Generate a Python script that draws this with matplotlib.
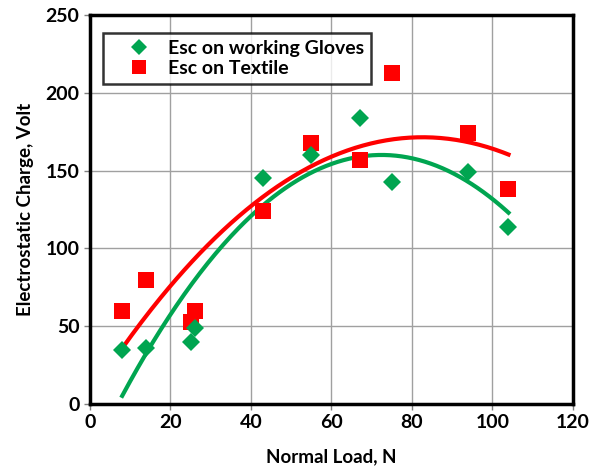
import matplotlib.pyplot as plt
import numpy as np

load = [8, 14, 25, 26, 43, 55, 67, 75, 94, 104]
gloves = [35, 36, 40, 49, 145, 160, 184, 143, 149, 114]
textile = [60, 80, 53, 60, 124, 168, 157, 213, 174, 138]

plt.rcParams['font.family'] = ['Lato', 'DejaVu Sans']
plt.rcParams['font.weight'] = 'bold'

fig = plt.figure(figsize=(5.98, 4.72), dpi=100)
ax = fig.add_axes([0.1505, 0.144, 0.8075, 0.824])

green = '#00a550'
red = '#ff0000'

# quadratic trendlines (like excel)
xs = np.linspace(min(load), max(load), 200)
pg = np.polyfit(load, gloves, 2)
pr = np.polyfit(load, textile, 2)
ax.plot(xs, np.polyval(pr, xs), color=red, lw=3, zorder=3)
ax.plot(xs, np.polyval(pg, xs), color=green, lw=3, zorder=3)

ax.plot(load, gloves, 'D', color=green, ms=9.5, mew=0, zorder=4,
        label='Esc on working Gloves')
ax.plot(load, textile, 's', color=red, ms=12, mew=0, zorder=3.5,
        label='Esc on Textile')

ax.set_xlim(0, 120)
ax.set_ylim(0, 250)
ax.set_xticks(np.arange(0, 121, 20))
ax.set_yticks(np.arange(0, 251, 50))
ax.grid(True, color='#a0a0a0', lw=1)
ax.set_axisbelow(True)
for s in ax.spines.values():
    s.set_linewidth(2.5)
    s.set_color('black')
ax.tick_params(labelsize=14, length=4, color='#808080', width=1)
ax.set_xlabel('Normal Load, N', fontsize=13.5, fontweight='bold', labelpad=12)
ax.set_ylabel('Electrostatic Charge, Volt', fontsize=13.5, fontweight='bold',
              labelpad=8)

leg = ax.legend(loc='upper left', bbox_to_anchor=(0.027, 0.953), fontsize=14,
                frameon=True, fancybox=False, edgecolor='black',
                handletextpad=0.0, borderpad=0.35, handlelength=3.0,
                labelspacing=0.15, borderaxespad=0, markerscale=0.85)
leg.get_frame().set_linewidth(1.8)

fig.savefig('out.png')
